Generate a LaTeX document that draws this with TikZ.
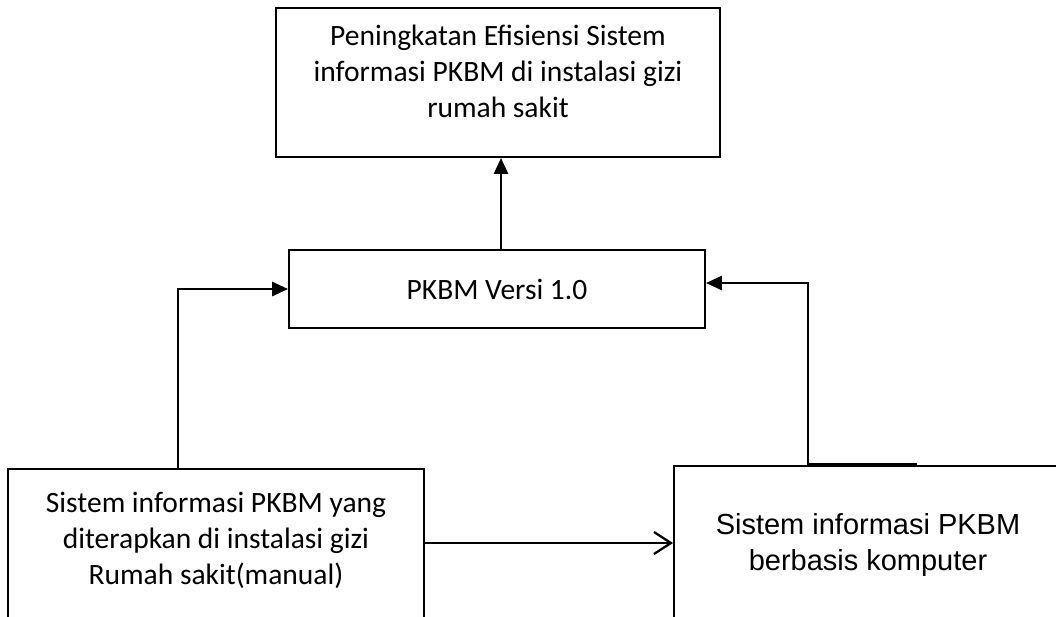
\documentclass[tikz,border=0pt]{standalone}
\usepackage{fontspec}
\setmainfont{Carlito}
\newfontfamily\arialfont{Liberation Sans}
\usepackage{tikz}
\usetikzlibrary{arrows.meta, calc}

\begin{document}
\begin{tikzpicture}[x=0.02cm, y=-0.02cm,
    box/.style={draw, line width=1.1pt, inner sep=0pt},
    txt/.style={align=center, font=\fontsize{16.8}{20.5}\selectfont},
    link/.style={line width=1.6pt, -{Triangle[length=0.32cm, width=0.28cm]}},
    openlink/.style={line width=1.3pt, -{Straight Barb[length=0.34cm, width=0.44cm, line width=1.3pt]}}]

  \useasboundingbox (0, 0) rectangle (1056, 616);
  % \draw [help lines, step=50] (0, 0) grid (1056, 616);

  \node[box, minimum width=8.88cm, minimum height=2.98cm] (efisiensi) at (498, 82.5) {};
  \node[txt] (efisiensitxt) at (498, 71) {Peningkatan Efisiensi Sistem\\informasi PKBM di instalasi gizi\\rumah sakit};
  \node[box, minimum width=8.32cm, minimum height=1.56cm, txt] (versi) at (497, 289) {PKBM Versi 1.0};
  \node[box, minimum width=8.32cm, minimum height=3.06cm] (manual) at (216, 545.5) {};
  \node[txt] (manualtxt) at (216, 540) {Sistem informasi PKBM yang\\diterapkan di instalasi gizi\\Rumah sakit(manual)};
  \node[box, minimum width=7.76cm, minimum height=3.12cm] (komputer) at (868, 544) {};
  \node[txt, font=\arialfont\fontsize{16.5}{21}\selectfont] (komputertxt) at (868, 545) {Sistem informasi PKBM\\berbasis komputer};

  \coordinate (stub) at (917, 464);

  \draw[link] ([xshift=0.08cm]versi.north) -- ([xshift=0.08cm]versi.north |- efisiensi.south);
  \draw[link] ([xshift=-0.76cm]manual.north) |- (versi.west);
  \draw[link, line width=1.4pt] (stub) -- (808, 464) |- ([yshift=0.12cm]versi.east);
  \draw[openlink] ([yshift=0.05cm]manual.east) -- ([yshift=0.05cm]manual.east -| komputer.west);

\end{tikzpicture}
\end{document}
